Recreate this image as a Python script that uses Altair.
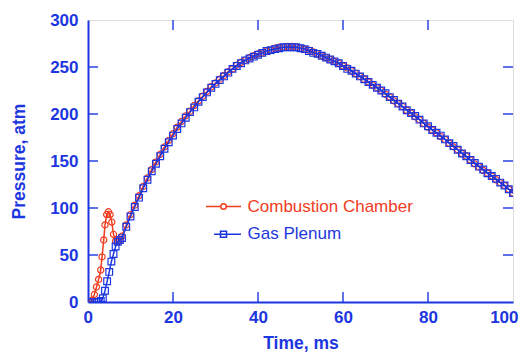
import altair as alt
import pandas as pd

# ---------------- data ----------------
cc_time = [0.5, 1.0, 1.5, 2.0, 2.5, 3.0, 3.3, 3.7, 4.0, 4.4, 4.8, 5.2, 5.6, 6.0, 6.5, 7.0, 7.5,
           8, 9, 10, 11, 12, 13, 14, 15, 16, 17, 18, 19, 20, 21, 22, 23, 24, 25, 26, 27, 28, 29,
           30, 31, 32, 33, 34, 35, 36, 37, 38, 39, 40, 41, 42, 43, 44, 45, 46, 47, 48, 49, 50,
           51, 52, 53, 54, 55, 56, 57, 58, 59, 60, 61, 62, 63, 64, 65, 66, 67, 68, 69, 70, 71,
           72, 73, 74, 75, 76, 77, 78, 79, 80, 81, 82, 83, 84, 85, 86, 87, 88, 89, 90, 91, 92,
           93, 94, 95, 96, 97, 98, 99, 100]
cc_pressure = [0, 2, 8, 16, 24, 34, 48, 66, 82, 93, 96, 93, 85, 72, 65, 64, 66,
               70, 82, 93, 103, 113, 123, 132, 141, 149, 157, 165, 172, 179, 186, 192, 198, 203,
               209, 214, 219, 224, 229, 233, 237, 241, 245, 248, 252, 255, 257, 260, 262, 264,
               265, 267, 268, 270, 271, 271, 272, 272, 271, 270, 269, 268, 266, 264, 262, 260,
               258, 256, 254, 251, 249, 246, 243, 240, 237, 234, 231, 228, 225, 221, 218, 214,
               211, 208, 204, 201, 197, 194, 190, 186, 183, 180, 176, 173, 169, 165, 162, 158,
               155, 151, 147, 144, 140, 137, 134, 130, 127, 124, 120, 116]

gp_time = [0.5, 1.0, 1.5, 2.0, 2.5, 3.0, 3.5, 4.0, 4.5, 5.0, 5.5, 6.0, 6.5, 7.0, 7.5,
           8, 9, 10, 11, 12, 13, 14, 15, 16, 17, 18, 19, 20, 21, 22, 23, 24, 25, 26, 27, 28, 29,
           30, 31, 32, 33, 34, 35, 36, 37, 38, 39, 40, 41, 42, 43, 44, 45, 46, 47, 48, 49, 50,
           51, 52, 53, 54, 55, 56, 57, 58, 59, 60, 61, 62, 63, 64, 65, 66, 67, 68, 69, 70, 71,
           72, 73, 74, 75, 76, 77, 78, 79, 80, 81, 82, 83, 84, 85, 86, 87, 88, 89, 90, 91, 92,
           93, 94, 95, 96, 97, 98, 99, 100]
gp_pressure = [0, 0, 0, 0, 0, 1, 4, 12, 22, 32, 43, 51, 59, 64, 66,
               68, 80, 91, 101, 111, 121, 130, 139, 147, 155, 163, 170, 177, 184, 190, 196, 202,
               207, 213, 218, 223, 228, 232, 236, 240, 244, 248, 251, 254, 257, 259, 261, 263,
               265, 267, 268, 269, 270, 271, 271, 271, 271, 270, 269, 267, 265, 264, 262, 260,
               258, 256, 254, 251, 248, 246, 243, 240, 237, 234, 231, 228, 225, 222, 218, 215,
               211, 208, 204, 201, 198, 194, 190, 187, 183, 180, 177, 173, 169, 166, 162, 158,
               155, 151, 148, 144, 141, 137, 134, 131, 127, 124, 120, 116]

series_names = ["Combustion Chamber", "Gas Plenum"]
x_ticks = [0, 20, 40, 60, 80, 100]
y_ticks = [0, 50, 100, 150, 200, 250, 300]

RED = "#f23c1e"
BLUE = "#1c36e0"
FONT = "Liberation Sans"

df = pd.concat([
    pd.DataFrame({"t": cc_time, "p": cc_pressure, "series": series_names[0]}),
    pd.DataFrame({"t": gp_time, "p": gp_pressure, "series": series_names[1]}),
])

x_scale = alt.Scale(domain=[x_ticks[0], x_ticks[-1]], nice=False, padding=0)
y_scale = alt.Scale(domain=[y_ticks[0], y_ticks[-1]], nice=False, padding=0)
color_scale = alt.Scale(domain=series_names, range=[RED, BLUE])

x_axis = alt.Axis(title="Time, ms", values=x_ticks, ticks=False, grid=False,
                  labelFlush=True, labelFlushOffset=5,
                  labelFontSize=17, labelFontWeight="bold", labelColor=BLUE, labelPadding=7,
                  titleFontSize=17.5, titleFontWeight="bold", titleColor=BLUE, titlePadding=9,
                  domainColor=BLUE, domainWidth=2, labelFont=FONT, titleFont=FONT)
y_axis = alt.Axis(title="Pressure, atm", values=y_ticks, ticks=False, grid=False, labelFlush=False,
                  labelFontSize=17, labelFontWeight="bold", labelColor=BLUE, labelPadding=10,
                  titleFontSize=17.5, titleFontWeight="bold", titleColor=BLUE, titlePadding=21,
                  domainColor=BLUE, domainWidth=2, labelFont=FONT, titleFont=FONT)

RED_SYM = "M-3.5,0H-0.55M0.55,0H3.5M-0.55,0A0.55,0.55 0 1,0 0.55,0A0.55,0.55 0 1,0 -0.55,0"
BLUE_SYM = "M-1.9,0H-0.6M0.6,0H3.5M-0.6,-0.6H0.6V0.6H-0.6ZM-0.6,0H0.6"

legend = alt.Legend(
    title=None, orient="none", legendX=127, legendY=178,
    symbolType={"expr": f"datum.value == '{series_names[0]}' ? '{RED_SYM}' : '{BLUE_SYM}'"},
    symbolSize=100, symbolStrokeWidth=1.5, symbolFillColor="transparent",
    labelColor={"expr": f"datum.value == '{series_names[0]}' ? '{RED}' : '{BLUE}'"},
    labelFontSize=17, labelFont=FONT, labelOffset=15.5, rowPadding=9.7, padding=0,
    labelLimit=400,
)

base = alt.Chart(df).encode(
    x=alt.X("t:Q", scale=x_scale, axis=x_axis),
    y=alt.Y("p:Q", scale=y_scale, axis=y_axis),
    color=alt.Color("series:N", scale=color_scale, legend=legend),
)

layers = []
for name, shape, size in [(series_names[0], "circle", 38), (series_names[1], "square", 45)]:
    sub = base.transform_filter(alt.datum.series == name)
    layers.append(sub.mark_line(strokeWidth=1.5, clip=True))
    layers.append(sub.mark_point(shape=shape, size=size, strokeWidth=1.2, filled=False,
                                 clip=True, opacity=1))

# inward ticks on all four sides
xt = pd.DataFrame({"t": x_ticks[1:-1]})
yt = pd.DataFrame({"p": y_ticks[1:-1]})
tick_style = dict(color=BLUE, thickness=2, size=10)
H = 282
W = 425
bottom_ticks = alt.Chart(xt).mark_tick(**tick_style).encode(
    x=alt.X("t:Q", scale=x_scale), y=alt.value(H - 5))
top_ticks = alt.Chart(xt).mark_tick(**tick_style).encode(
    x=alt.X("t:Q", scale=x_scale), y=alt.value(5))
left_ticks = alt.Chart(yt).mark_tick(**tick_style).encode(
    y=alt.Y("p:Q", scale=y_scale), x=alt.value(5))
right_ticks = alt.Chart(yt).mark_tick(**tick_style).encode(
    y=alt.Y("p:Q", scale=y_scale), x=alt.value(W - 5))

chart = alt.layer(bottom_ticks, top_ticks, left_ticks, right_ticks, *layers).properties(
    width=W, height=H,
    autosize=alt.AutoSizeParams(type="none"),
    padding={"left": 80, "top": 12, "right": 6, "bottom": 50},
).configure_view(stroke=BLUE, strokeWidth=2).configure(background="white")

chart.save("out.html", embed_options={"renderer": "svg", "actions": False})
